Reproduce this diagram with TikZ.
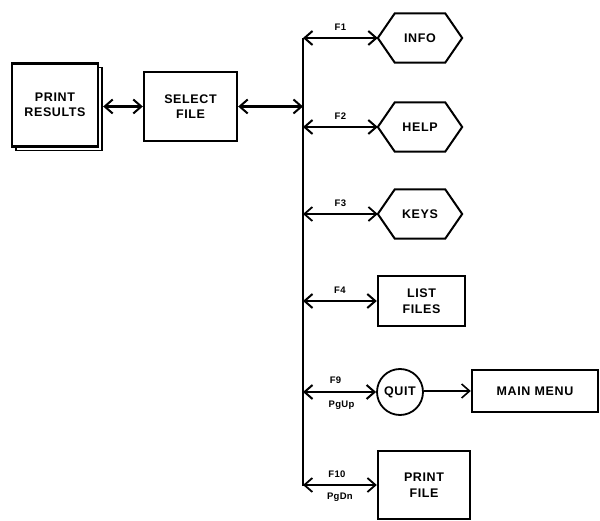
\documentclass[tikz,border=0pt]{standalone}
\usepackage{fontspec}
\setmainfont{Liberation Sans}
\usetikzlibrary{arrows.meta,shadows}
\tikzset{
  boxtext/.style={font=\fontsize{12.5}{15.5}\selectfont\bfseries\addfontfeature{LetterSpace=5}, align=center},
  keytext/.style={font=\fontsize{9.5}{11}\selectfont\bfseries\addfontfeature{LetterSpace=3}, inner sep=0pt},
  box/.style={draw, line width=2.4pt, boxtext, inner sep=0pt},
  hexbox/.style={boxtext, inner sep=0pt, minimum width=84pt, minimum height=49pt},
  hexline/.style={draw, line width=2pt, line join=miter},
  dbl/.style={line width=2.6pt, {Straight Barb[length=8pt,width=14pt,line width=2pt]}-{Straight Barb[length=8pt,width=14pt,line width=2pt]}},
  dblthin/.style={line width=1.8pt, {Straight Barb[length=8pt,width=14pt,line width=1.8pt]}-{Straight Barb[length=8pt,width=14pt,line width=1.8pt]}},
  single/.style={line width=1.6pt, -{Straight Barb[length=8pt,width=14pt,line width=1.6pt]}},
  bus/.style={line width=2.2pt}
}
\begin{document}
\begin{tikzpicture}[x=1pt,y=-1pt]
\useasboundingbox (0,0) rectangle (600,521);
% nodes
\node[box, fill=white, minimum width=86pt, minimum height=83pt,
  copy shadow={shadow xshift=4pt, shadow yshift=-4pt, draw, line width=1.8pt, fill=white}] (pr) at (55,105) {PRINT\\RESULTS};
\node[box, minimum width=93pt, minimum height=69pt] (sf) at (190.5,106.5) {SELECT\\FILE};
\node[hexbox] (info) at (420,38) {INFO};
\node[hexbox] (help) at (420,127) {HELP};
\node[hexbox] (keys) at (420,214) {KEYS};
\node[box, minimum width=87pt, minimum height=50pt] (list) at (421.5,301) {LIST\\FILES};
\node[draw, circle, line width=1.8pt, boxtext, minimum size=46pt, inner sep=0pt] (quit) at (400,392) {QUIT};
\node[box, minimum width=126pt, minimum height=42pt] (main) at (535,391) {MAIN MENU};
\node[box, minimum width=92pt, minimum height=68pt] (pf) at (424,485) {PRINT\\FILE};
% hexagon outlines
\foreach \h in {info,help,keys}{
  \draw[hexline] (\h.west) -- ([xshift=17pt]\h.north west) -- ([xshift=-17pt]\h.north east)
    -- (\h.east) -- ([xshift=-17pt]\h.south east) -- ([xshift=17pt]\h.south west) -- cycle;
}
% bus
\coordinate (bustop) at (303,38);
\coordinate (busbot) at (303,486);
\draw[bus] (bustop) -- (busbot);
% connectors
\draw[dbl] ([xshift=4pt]pr.east |- sf.west) -- (sf.west);
\draw[dbl] (sf.east) -- (bustop |- sf.east);
\draw[dbl] (bustop |- info.west) -- node[keytext, above=6pt] (k1) {F1} (info.west);
\draw[dbl] (bustop |- help.west) -- node[keytext, above=6pt] (k2) {F2} (help.west);
\draw[dblthin] (bustop |- keys.west) -- node[keytext, above=6pt] (k3) {F3} (keys.west);
\draw[dbl] (bustop |- list.west) -- node[keytext, above=6pt] (k4) {F4} (list.west);
\draw[dbl] (bustop |- quit.west) -- node[keytext, above=7pt, xshift=-4pt] (k9) {F9}
   node[keytext, below=8pt, xshift=2pt] (pu) {PgUp} (quit.west);
\draw[dblthin] (bustop |- pf.west) -- node[keytext, above=7pt, xshift=-3pt] (k10) {F10}
   node[keytext, below=7pt] (pd) {PgDn} (pf.west);
\draw[single] (quit.east |- main.west) -- (main.west);
\end{tikzpicture}
\end{document}
